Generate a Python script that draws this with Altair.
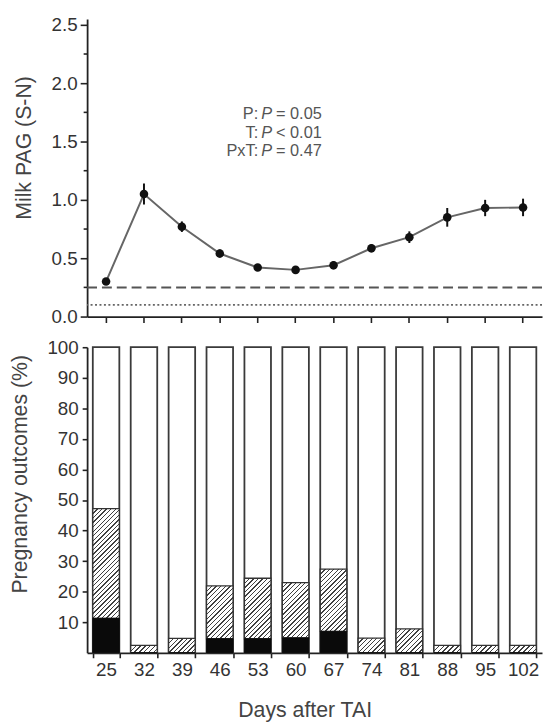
import altair as alt
import pandas as pd

# ---------------- data ----------------
days = [25, 32, 39, 46, 53, 60, 67, 74, 81, 88, 95, 102]
pag_mean = [0.30, 1.05, 0.77, 0.54, 0.42, 0.40, 0.44, 0.585, 0.68, 0.85, 0.93, 0.935]
pag_se = [0.02, 0.09, 0.045, 0.035, 0.025, 0.025, 0.035, 0.035, 0.05, 0.08, 0.07, 0.075]
cutoff_dashed = [0.25]
cutoff_dotted = [0.10]

black_pct = [11.3, 0, 0, 4.6, 4.6, 4.9, 7.0, 0, 0, 0, 0, 0]
hatch_top_pct = [47.2, 2.4, 4.7, 21.9, 24.4, 23.0, 27.4, 4.8, 7.8, 2.4, 2.4, 2.4]
total_pct = [100] * 12

stat_terms = ["P:", "T:", "PxT:"]
stat_italic = ["P", "P", "P"]
stat_values = ["= 0.05", "< 0.01", "= 0.47"]

y_top_ticks = [0, 0.25, 0.5, 0.75, 1.0, 1.25, 1.5, 1.75, 2.0, 2.25, 2.5]
y_bot_ticks = [10, 20, 30, 40, 50, 60, 70, 80, 90, 100]

# ---------------- layout constants ----------------
W = 460
TOP_H = 301
BOT_H = 309
PAD_IN = 0.3
FONT = "Liberation Sans"
AX = "#222222"

pag = pd.DataFrame({
    "day": days,
    "mean": pag_mean,
    "lo": [m - s for m, s in zip(pag_mean, pag_se)],
    "hi": [m + s for m, s in zip(pag_mean, pag_se)],
})
bars = pd.DataFrame({
    "day": days,
    "black": black_pct,
    "hatch": hatch_top_pct,
    "total": total_pct,
})

xscale = alt.Scale(domain=days, paddingInner=PAD_IN, paddingOuter=PAD_IN / 2)

# ---------------- top panel ----------------
major = "round(datum.value*4) % 2 == 0"
x_top_axis = alt.Axis(labels=False, title=None, tickSize=6, domainWidth=1.8)
y_top_axis = alt.Axis(
    values=y_top_ticks,
    labelExpr=f"{major} ? format(datum.value, '.1f') : ''",
    tickSize={"condition": {"test": major, "value": 7}, "value": 4},
    labelPadding=3,
    title="Milk PAG (S-N)",
    titleX=-63, titleY=130, titleBaseline="middle",
)
y_top_scale = alt.Scale(domain=[0, 2.55], nice=False)

def xt():
    return alt.X("day:O", scale=xscale, axis=x_top_axis)

def yt(field):
    return alt.Y(f"{field}:Q", scale=y_top_scale, axis=y_top_axis)

base_top = alt.Chart(pag)

dashed = alt.Chart(pd.DataFrame({"mean": cutoff_dashed})).mark_rule(
    color="#555555", strokeWidth=2, strokeDash=[10, 5]
).encode(y=yt("mean"))
dotted = alt.Chart(pd.DataFrame({"mean": cutoff_dotted})).mark_rule(
    color="#666666", strokeWidth=1.6, strokeDash=[2, 2.5]
).encode(y=yt("mean"))

line = base_top.mark_line(color="#666666", strokeWidth=2).encode(x=xt(), y=yt("mean"))
err = base_top.mark_rule(color="#111111", strokeWidth=2).encode(
    x=xt(), y=yt("lo"), y2="hi"
)
pts = base_top.mark_point(filled=True, color="#111111", size=75, opacity=1).encode(
    x=xt(), y=yt("mean")
)

one = pd.DataFrame({"a": [0]})
txt_common = dict(font=FONT, fontSize=16.5, color="#555555", baseline="top", lineHeight=19)
t1 = alt.Chart(one).mark_text(text=stat_terms, align="right", **txt_common).encode(
    x=alt.value(173), y=alt.value(88)
)
t2 = alt.Chart(one).mark_text(text=stat_italic, align="left", fontStyle="italic", **txt_common).encode(
    x=alt.value(176), y=alt.value(88)
)
t3 = alt.Chart(one).mark_text(text=stat_values, align="left", **txt_common).encode(
    x=alt.value(191), y=alt.value(88)
)

top = alt.layer(dashed, dotted, line, err, pts, t1, t2, t3).properties(width=W, height=TOP_H)

# ---------------- bottom panel ----------------
x_bot_axis = alt.Axis(
    title="Days after TAI", tickBand="extent", tickSize=5, labelPadding=3,
    labelAngle=0, titlePadding=20, titleX=220,
)
y_bot_axis = alt.Axis(
    values=y_bot_ticks, tickSize=5, labelPadding=4,
    title="Pregnancy outcomes (%)", titleX=-67, titleY=128, titleBaseline="middle",
)
y_bot_scale = alt.Scale(domain=[0, 100], nice=False)

def xb():
    return alt.X("day:O", scale=xscale, axis=x_bot_axis)

def yb(field):
    return alt.Y(f"{field}:Q", scale=y_bot_scale, axis=y_bot_axis)

step = W / (len(days) - PAD_IN + PAD_IN)
bw = step * (1 - PAD_IN)
px_per_pct = BOT_H / 100.0

def hatch_fill(w, h, pitch=4.6, frac=0.3, dark="#404040", light="#ffffff"):
    h = max(h, 0.5)
    k = (w + h) / (w * w + h * h)
    n = max(1, int(round((w + h) / pitch)))
    stops = []
    for i in range(n):
        a = i / n
        b = (i + frac) / n
        c = (i + 1) / n
        stops += [
            {"offset": a, "color": dark},
            {"offset": b, "color": dark},
            {"offset": b, "color": light},
            {"offset": c, "color": light},
        ]
    return {"gradient": "linear", "x1": 0, "y1": 0, "x2": k * w, "y2": k * h, "stops": stops}

base_bot = alt.Chart(bars)
white = base_bot.mark_bar(fill="white", stroke="#3a3a3a", strokeWidth=1.8).encode(
    x=xb(), y=yb("total")
)

hatch_layers = []
for d, blk, top_v in zip(days, black_pct, hatch_top_pct):
    hpx = (top_v - blk) * px_per_pct
    hatch_layers.append(
        base_bot.transform_filter(alt.datum.day == d)
        .mark_bar(fill=hatch_fill(bw, hpx), stroke="#333333", strokeWidth=1.3)
        .encode(x=xb(), y=yb("hatch"), y2="black")
    )

blackbars = base_bot.mark_bar(fill="#0a0a0a", stroke="#0a0a0a", strokeWidth=0.8).encode(
    x=xb(), y=yb("black")
)

bottom = alt.layer(white, *hatch_layers, blackbars).properties(width=W, height=BOT_H)

chart = (
    alt.vconcat(top, bottom, spacing=31, bounds="flush")
    .properties(padding={"left": 1, "top": 3, "right": 0, "bottom": 2})
    .configure(font=FONT)
    .configure_view(stroke=None)
    .configure_axis(
        labelFont=FONT, titleFont=FONT, labelFontSize=19, titleFontSize=21.5,
        labelColor="#333333", titleColor="#444444", titleFontWeight="normal",
        domainColor=AX, tickColor=AX, domainWidth=1.8, tickWidth=1.6, grid=False,
    )
)

chart.save("out.html", embed_options={"renderer": "svg", "actions": False})
